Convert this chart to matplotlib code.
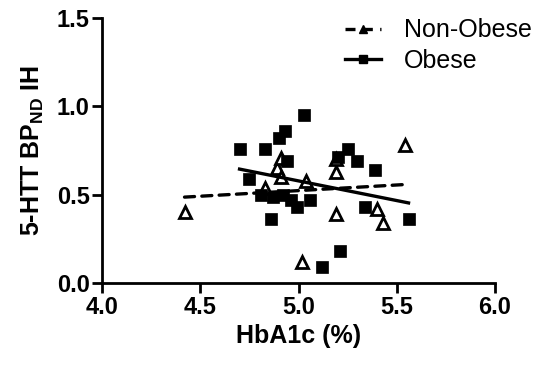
import numpy as np
import matplotlib
matplotlib.use("Agg")
import matplotlib.pyplot as plt

plt.rcParams["font.family"] = ["Liberation Sans", "DejaVu Sans"]
plt.rcParams["mathtext.fontset"] = "custom"
plt.rcParams["mathtext.rm"] = "Liberation Sans"
plt.rcParams["mathtext.bf"] = "Liberation Sans:bold"

# values
nonobese_hba1c = [4.42, 4.83, 4.89, 4.91, 4.91, 5.04, 5.19, 5.19, 5.19, 5.02, 5.40, 5.43, 5.54]
nonobese_bp = [0.40, 0.54, 0.65, 0.71, 0.60, 0.58, 0.63, 0.70, 0.39, 0.12, 0.42, 0.34, 0.78]

obese_hba1c = [4.70, 4.83, 4.90, 4.93, 5.03, 4.94, 4.75, 4.81, 4.87, 4.92, 4.96,
               4.99, 5.06, 4.86, 5.12, 5.21, 5.20, 5.25, 5.30, 5.39, 5.34, 5.56]
obese_bp = [0.76, 0.76, 0.82, 0.86, 0.95, 0.69, 0.59, 0.50, 0.485, 0.50, 0.47,
            0.43, 0.47, 0.36, 0.09, 0.18, 0.715, 0.76, 0.69, 0.64, 0.43, 0.36]

xticks = [4.0, 4.5, 5.0, 5.5, 6.0]
yticks = [0.0, 0.5, 1.0, 1.5]

fig = plt.figure(figsize=(5.42, 3.65), dpi=100)
ax = fig.add_axes([102 / 542, 82 / 365, 393 / 542, 265 / 365])

for xs, ys, ls, marker, face, lab in [
        (nonobese_hba1c, nonobese_bp, (0, (3, 2.2)), "^", "white", "Non-Obese"),
        (obese_hba1c, obese_bp, "-", "s", "black", "Obese")]:
    xs, ys = np.array(xs), np.array(ys)
    slope, icpt = np.polyfit(xs, ys, 1)
    xx = np.array([xs.min(), xs.max()])
    ax.plot(xx, icpt + slope * xx, linestyle=ls, color="black", lw=2.4,
            dash_capstyle="round", zorder=4)
    ax.plot(xs, ys, linestyle="none", marker=marker, ms=9 if marker == "^" else 8.6,
            mfc=face, mec="black", mew=2.0 if marker == "^" else 0.5, zorder=3)
    ax.plot([], [], linestyle=ls, color="black", lw=2.4, marker=marker,
            ms=6, mfc="black", mec="black", label=lab)

ax.set_xlim(4.0, 6.0)
ax.set_ylim(0.0, 1.5)
ax.set_xticks(xticks)
ax.set_yticks(yticks)
ax.set_xticklabels([f"{v:.1f}" for v in xticks], fontsize=17, fontweight="bold")
ax.set_yticklabels([f"{v:.1f}" for v in yticks], fontsize=17, fontweight="bold")
for s in ["top", "right"]:
    ax.spines[s].set_visible(False)
for s in ["left", "bottom"]:
    ax.spines[s].set_linewidth(2.0)
ax.tick_params(width=2.0, length=7, pad=2)
ax.set_xlabel("HbA1c (%)", fontsize=18, fontweight="bold", labelpad=4)
ax.set_ylabel(r"5-HTT BP$_{\mathbf{ND}}$ IH", fontsize=18, fontweight="bold", labelpad=8)

fig.legend(loc="upper left", bbox_to_anchor=(345 / 542, 0.95), frameon=False,
           fontsize=18, handlelength=1.45, handletextpad=0.9, borderpad=0,
           borderaxespad=0, labelspacing=0.25)

fig.savefig("out.png", dpi=100)
